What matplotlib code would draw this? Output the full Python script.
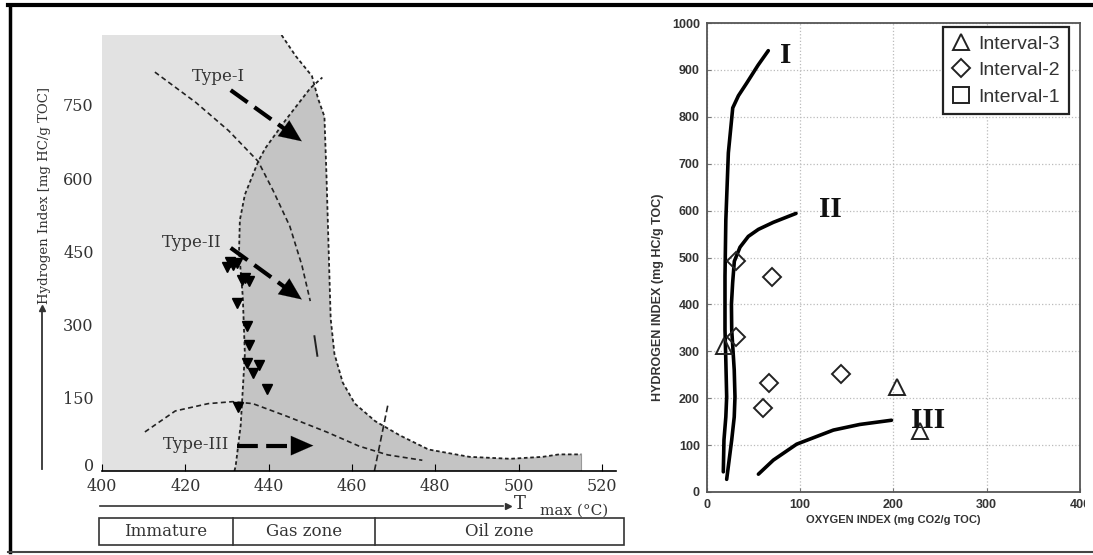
import numpy as np
import matplotlib.pyplot as plt
from matplotlib.patches import Polygon, Rectangle
from matplotlib.lines import Line2D

# ---- left panel: Tmax vs HI ----
# right boundary of shaded field
rb_t = [443.1, 446.5, 450.4, 451.9, 453.4, 453.9, 454.4, 454.9, 455.8, 457.8,
        460.7, 465.6, 471.5, 478.4, 488.2, 498.0, 505.8, 509.7, 515.1]
rb_hi = [893, 850, 809, 762, 726, 603, 457, 312, 240, 181,
         138, 102, 73, 44, 29, 25, 29, 34, 34]
# rising left boundary of the darker field
lr_t = [431.8, 432.1, 433.3, 434.3, 433.8, 432.9, 433.1, 434.3, 437.5, 439.2, 444.1, 450.0, 452.9]
lr_hi = [0, 11, 94, 240, 357, 450, 514, 566, 634, 661, 719, 784, 806]
# type I and type III maturation curves
t1_t = [412.7, 422.5, 430.4, 437.5, 441.1, 445.1, 448.0, 450.0, 451.0, 451.7]
t1_hi = [817, 755, 697, 634, 574, 501, 421, 348, 276, 236]
t3_t = [410.3, 417.6, 425.5, 431.3, 436.2, 444.1, 453.9, 461.7, 468.6, 476.9]
t3_hi = [80, 123, 138, 142, 138, 113, 80, 51, 33, 22]
zone_t = [465.4, 468.6]
zone_hi = [0, 134]
# samples
smp_t = [430.0, 430.8, 431.5, 432.3, 433.6, 434.4, 435.3, 432.3, 434.8, 435.3, 434.8, 437.7, 436.2, 439.7, 432.6]
smp_hi = [418, 428, 422, 426, 392, 396, 390, 345, 298, 258, 221, 218, 200, 167, 131]
# arrows (start T, start HI, end T, end HI) and labels
arrows = {"Type-I": (430.9, 780, 448.5, 672),
          "Type-II": (430.9, 457, 448.5, 348),
          "Type-III": (432.3, 52, 451.4, 52)}
type_lbl = {"Type-I": (427.9, 809), "Type-II": (421.6, 468), "Type-III": (422.5, 54)}
left_yticks = [0, 150, 300, 450, 600, 750]
left_xticks = [400, 420, 440, 460, 480, 500, 520]
zones = ["Immature", "Gas zone", "Oil zone"]

# ---- right panel: pseudo van Krevelen ----
c1_oi = [17.8, 18.5, 20.5, 21.4, 20.5, 19.6, 19.6, 20.5, 23.2, 27.9, 34.0, 42.9, 55.0, 66.0]
c1_hi = [43, 111, 160, 203, 280, 346, 460, 580, 723, 819, 845, 872, 910, 941]
c2_oi = [21.4, 26.8, 29.5, 30.3, 29.5, 26.8, 26.5, 27.8, 29.6, 35.7, 44.6, 55.4, 71.4, 95.7]
c2_hi = [27, 111, 160, 203, 260, 346, 400, 446, 492, 522, 545, 560, 575, 594]
c3_oi = [55.4, 71.4, 96.4, 135.7, 164.0, 198.0]
c3_hi = [38, 68, 102, 132, 144, 153]
int3_oi = [18.5, 203.5, 228.5]
int3_hi = [312, 223, 129]
int2_oi = [31.0, 31.0, 69.6, 67.1, 60.0, 143.9]
int2_hi = [492, 330, 458, 233, 179, 252]
int1_oi = []
int1_hi = []
curve_lbl = {"I": (84.6, 930), "II": (132, 603), "III": (237.4, 153)}

W, H = 1093, 555
def fx(p): return p / W
def fy(p): return 1 - p / H

fig = plt.figure(figsize=(W / 100, H / 100), dpi=100)
serif = "DejaVu Serif"
sans = "Liberation Sans"

# ================= left panel =================
ax = fig.add_axes([fx(102), fy(471), (616 - 102) / W, (471 - 35) / H])
ax.set_xlim(400, 523.4)
ax.set_ylim(0, 893)
light = [(400, 0), (400, 893)] + list(zip(rb_t, rb_hi)) + [(515.1, 0)]
ax.add_patch(Polygon(light, closed=True, fc="#e2e2e2", ec="none", zorder=0))
dark = list(zip(lr_t[:-1], lr_hi[:-1])) + [(450.8, 795)]
dark += [(t, h) for t, h in zip(rb_t, rb_hi) if h < 795] + [(515.1, 0)]
ax.add_patch(Polygon(dark, closed=True, fc="#c4c4c4", ec="none", zorder=0))

dot = dict(color="#222222", lw=1.3, ls=(0, (2, 1.5)))
ax.plot(rb_t, rb_hi, **dot)
ax.plot([515.1, 515.1], [34, 0], color="#999999", lw=0.8)
ax.plot(lr_t, lr_hi, **dot)
ax.plot(t1_t[:-2], t1_hi[:-2], color="#222222", lw=1.2, ls=(0, (3, 2)))
ax.plot(t1_t[-2:], t1_hi[-2:], color="#222222", lw=1.4)
ax.plot(t3_t, t3_hi, color="#222222", lw=1.2, ls=(0, (3, 2)))
ax.plot(zone_t, zone_hi, color="#222222", lw=1.2, ls=(0, (4, 2)))
ax.plot(smp_t, smp_hi, "v", color="black", ms=6.5, ls="none")

for k, (x0, y0, x1, y1) in arrows.items():
    ax.plot([x0, x0 + 0.8 * (x1 - x0)], [y0, y0 + 0.8 * (y1 - y0)],
            color="black", lw=3, ls=(0, (5, 2)), solid_capstyle="butt")
    ax.annotate("", xy=(x1, y1), xytext=(x0 + 0.7 * (x1 - x0), y0 + 0.7 * (y1 - y0)),
                arrowprops=dict(arrowstyle="-|>,head_length=0.8,head_width=0.35",
                                color="black", lw=0.1, mutation_scale=20))
for k, (x, y) in type_lbl.items():
    ax.text(x, y, k, ha="center", va="center", fontsize=12, family=serif, color="#333333")

for s in ["top", "right", "left"]:
    ax.spines[s].set_visible(False)
ax.spines["bottom"].set_linewidth(1.2)
ax.set_yticks(left_yticks)
ax.set_xticks(left_xticks)
ax.tick_params(axis="y", length=0, pad=6, labelsize=11.5)
ax.tick_params(axis="x", direction="in", length=5, pad=5, labelsize=11.5)
for lab in ax.get_xticklabels() + ax.get_yticklabels():
    lab.set_family(serif)
    lab.set_color("#333333")
ax.get_yticklabels()[0].set_va("baseline")

fig.text(fx(45), fy(195), "Hydrogen Index [mg HC/g TOC]", rotation=90, ha="center",
         va="center", fontsize=9.5, family=serif, color="#333333")
fig.add_artist(Line2D([fx(42), fx(42)], [fy(469), fy(312)], color="#333333", lw=1.3))
fig.add_artist(Line2D([fx(42)], [fy(308)], marker="^", color="#333333", ms=5))
fig.add_artist(Line2D([fx(100), fx(503)], [fy(506), fy(506)], color="#333333", lw=1.2))
fig.add_artist(Line2D([fx(508)], [fy(506)], marker=">", color="#333333", ms=5))
fig.text(fx(514), fy(504), "T", fontsize=13, family=serif, color="#333333", va="center")
fig.text(fx(540), fy(511), "max (°C)", fontsize=11, family=serif, color="#333333", va="center")

edges = [99, 233, 375, 624]
fig.add_artist(Rectangle((fx(99), fy(545)), (624 - 99) / W, (545 - 518) / H,
                         fill=False, ec="#333333", lw=1.2))
for e in edges[1:-1]:
    fig.add_artist(Line2D([fx(e), fx(e)], [fy(518), fy(545)], color="#333333", lw=1.2))
for i, z in enumerate(zones):
    fig.text(fx((edges[i] + edges[i + 1]) / 2), fy(531), z, ha="center", va="center",
             fontsize=12, family=serif, color="#333333")

# ================= right panel =================
bx = fig.add_axes([fx(706.7), fy(492), 373.3 / W, 469 / H])
bx.set_xlim(0, 400)
bx.set_ylim(0, 1000)
bx.set_xticks(np.arange(0, 401, 100))
bx.set_yticks(np.arange(0, 1001, 100))
bx.grid(True, ls=":", color="#bbbbbb", lw=0.9)
bx.set_axisbelow(True)
for s in bx.spines.values():
    s.set_color("#555555")
    s.set_linewidth(1.3)
bx.tick_params(direction="in", length=3, color="#777777", labelsize=9, pad=5)
for lab in bx.get_xticklabels() + bx.get_yticklabels():
    lab.set_family(sans)
    lab.set_weight("bold")
    lab.set_color("#333333")

for xs, ys in [(c1_oi, c1_hi), (c2_oi, c2_hi), (c3_oi, c3_hi)]:
    bx.plot(xs, ys, color="black", lw=2.6, solid_capstyle="round")
for k, (x, y) in curve_lbl.items():
    bx.text(x, y, k, ha="center", va="center", fontsize=21, family="Liberation Serif",
            weight="bold", color="#111111")

mk = dict(ls="none", mfc="none", mec="#222222", mew=1.4)
h3, = bx.plot(int3_oi, int3_hi, "^", ms=12, **mk)
h2, = bx.plot(int2_oi, int2_hi, "D", ms=9, **mk)
h1, = bx.plot(int1_oi, int1_hi, "s", ms=11, **mk)
leg = bx.legend([h3, h2, h1], ["Interval-3", "Interval-2", "Interval-1"],
                loc="upper right", bbox_to_anchor=(0.9705, 0.9925), borderaxespad=0,
                prop={"family": sans, "size": 14}, handlelength=1.0, handletextpad=0.4,
                labelspacing=0.45, borderpad=0.45, fancybox=False, framealpha=1)
leg.get_frame().set_edgecolor("#222222")
leg.get_frame().set_linewidth(1.6)
for t in leg.get_texts():
    t.set_color("#333333")

bx.set_xlabel("OXYGEN INDEX (mg CO2/g TOC)", family=sans, weight="bold", fontsize=8,
              color="#333333", labelpad=3)
fig.text(fx(658), fy(297), "HYDROGEN INDEX (mg HC/g TOC)", rotation=90, ha="center",
         va="center", family=sans, weight="bold", fontsize=9, color="#333333")

# clip of the pasted picture at the right edge, and the outer frame
fig.add_artist(Rectangle((fx(1085), fy(540)), 8 / W, 45 / H, fc="white", ec="none", zorder=5))
fig.add_artist(Line2D([fx(10), fx(10)], [fy(5), fy(552)], color="black", lw=2.5))
fig.add_artist(Line2D([fx(8), 1.0], [fy(5), fy(5)], color="black", lw=3))
fig.add_artist(Line2D([fx(8), 1.0], [fy(552), fy(552)], color="#444444", lw=1.5))

fig.savefig("out.png", dpi=100)
